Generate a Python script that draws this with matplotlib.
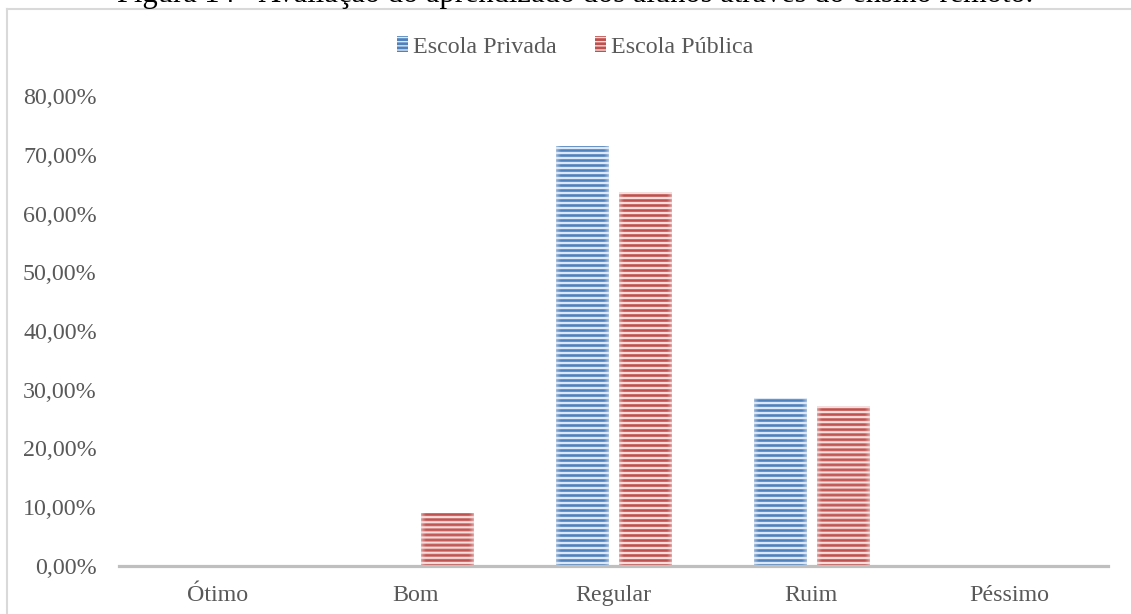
import numpy as np
import matplotlib
matplotlib.use("Agg")
import matplotlib.pyplot as plt
from matplotlib.patches import Patch
from matplotlib.ticker import FuncFormatter

# Categories and shares (%) per school type
categorias = ["Ótimo", "Bom", "Regular", "Ruim", "Péssimo"]
escola_privada = [0.0, 0.0, 71.43, 28.57, 0.0]
escola_publica = [0.0, 9.09, 63.64, 27.27, 0.0]
series_nomes = ["Escola Privada", "Escola Pública"]
y_ticks = [0, 10, 20, 30, 40, 50, 60, 70, 80]
titulo = "Figura 14 - Avaliação do aprendizado dos alunos através do ensino remoto."

plt.rcParams["font.family"] = ["Liberation Serif", "DejaVu Serif"]
plt.rcParams["hatch.linewidth"] = 2.0
TXT = "#595959"
FS = 17.3

W, H, DPI = 1131, 614, 100
fig = plt.figure(figsize=(W / DPI, H / DPI), dpi=DPI)

# chart frame (light grey border on left and top)
fig.add_artist(plt.Line2D([7 / W, 7 / W], [0, 1 - 9 / H], transform=fig.transFigure,
                          color="#d9d9d9", lw=1.5))
fig.add_artist(plt.Line2D([7 / W, 1], [1 - 9 / H, 1 - 9 / H], transform=fig.transFigure,
                          color="#d9d9d9", lw=1.5))

# caption sitting partly above the top edge
fig.text(117 / W, 1 - 2.0 / H, titulo, ha="left", va="baseline", fontsize=22,
         color="black")

ax_l, ax_r, ax_b, ax_t = 119, 1108, 566, 96
ax = fig.add_axes([ax_l / W, (H - ax_b) / H, (ax_r - ax_l) / W, (ax_b - ax_t) / H])
ax.set_xlim(-0.5, len(categorias) - 0.5)
ax.set_ylim(0, 80)

x = np.arange(len(categorias))
bw = 0.263
off = 0.158
bars_a = ax.bar(x - off, escola_privada, bw, color="none", linewidth=0)
bars_b = ax.bar(x + off, escola_publica, bw, color="none", linewidth=0)

px_per_y = (ax_b - ax_t) / 80.0
px_per_x = (ax_r - ax_l) / len(categorias)


def striped_fill(bars, dark, light):
    dark = np.array(dark) / 255.0
    light = np.array(light) / 255.0
    for rect in bars:
        h = rect.get_height()
        if h <= 0:
            continue
        x0, w = rect.get_x(), rect.get_width()
        ny = max(int(round(h * px_per_y)), 1)
        nx = max(int(round(w * px_per_x)), 2)
        rows = np.arange(ny)
        s = 0.5 + 0.5 * np.cos(2 * np.pi * rows / 5.0)
        s = np.clip((s - 0.25) / 0.5, 0, 1)  # 1 = dark stripe
        cols = np.arange(nx) + 0.5
        d_edge = np.minimum(cols, nx - cols)
        edge = np.clip(d_edge / 5.0, 0, 1) ** 0.7
        k = s[:, None] * (0.35 + 0.65 * edge[None, :])
        img = light[None, None, :] * (1 - k[..., None]) + dark[None, None, :] * k[..., None]
        im = ax.imshow(img, extent=[x0, x0 + w, 0, h], origin="lower",
                       aspect="auto", interpolation="bilinear", zorder=2)
        im.set_clip_path(rect)
    ax.set_xlim(-0.5, len(categorias) - 0.5)
    ax.set_ylim(0, 80)


striped_fill(bars_a, (79, 129, 189), (222, 232, 244))
striped_fill(bars_b, (192, 80, 77), (244, 222, 221))

ax.axhline(0, color="#bfbfbf", lw=2.3, zorder=3, clip_on=False)
for s in ax.spines.values():
    s.set_visible(False)

ax.set_yticks(y_ticks)
ax.yaxis.set_major_formatter(FuncFormatter(lambda v, p: f"{v:.2f}".replace(".", ",") + "%"))
ax.set_xticks(x)
ax.set_xticklabels(categorias)
ax.tick_params(axis="y", length=0, pad=16, labelsize=FS, labelcolor=TXT)
ax.tick_params(axis="x", length=0, pad=13.5, labelsize=FS, labelcolor=TXT)

handles = [Patch(facecolor="#dee8f4", edgecolor="#4f81bd", hatch="----", lw=0),
           Patch(facecolor="#f4dedd", edgecolor="#c0504d", hatch="----", lw=0)]
leg = fig.legend(handles, series_nomes, loc="center", bbox_to_anchor=(575 / W, 1 - 47 / H),
                 ncol=2, frameon=False, fontsize=FS, labelcolor=TXT,
                 handlelength=0.45, handleheight=0.6, handletextpad=0.2, columnspacing=1.6)

fig.savefig("out.png", dpi=DPI)
